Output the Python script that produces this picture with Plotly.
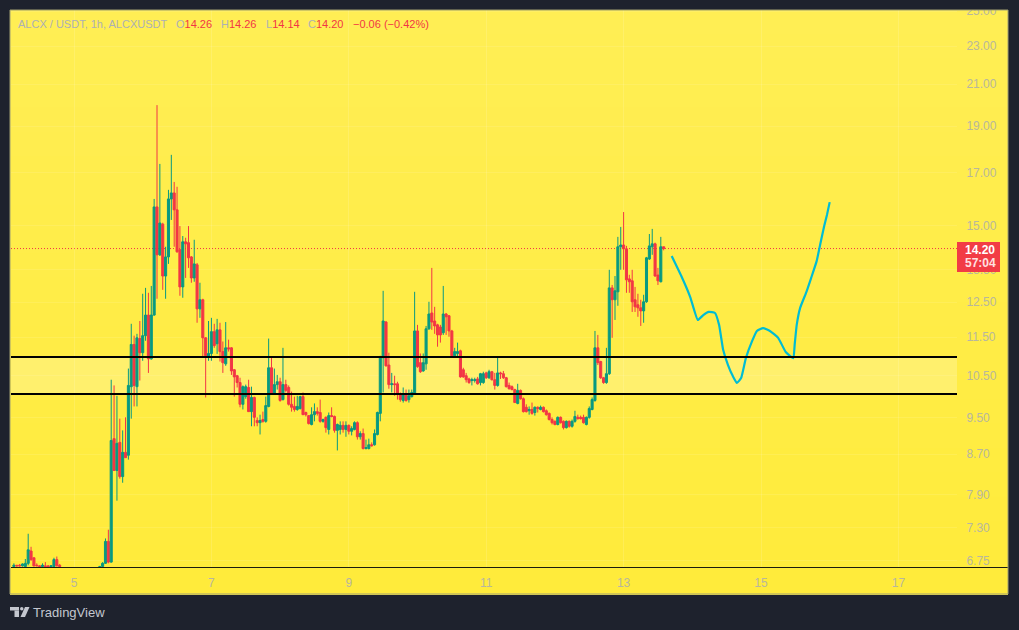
import math
import plotly.graph_objects as go

# hourly candles, one line = 10 candles
opens = [
    6.66,6.68,6.68,6.67,6.66,6.71,6.91,6.80,6.68,6.67,
    6.66,6.67,6.67,6.66,6.66,6.77,6.68,6.64,6.61,6.60,
    6.58,6.57,6.58,6.56,6.55,6.56,6.58,6.60,6.61,6.62,
    6.62,6.66,6.71,7.07,6.73,9.03,8.37,8.95,8.25,8.74,
    8.68,10.22,11.30,10.22,11.46,11.08,11.54,12.12,10.92,12.12,
    15.68,13.99,15.05,13.30,13.92,15.98,16.21,15.57,14.16,12.96,
    14.43,14.40,13.92,13.24,13.66,12.30,12.57,11.48,10.98,11.06,
    11.65,11.32,11.70,11.11,10.79,11.21,11.21,10.64,10.49,10.32,
    9.80,9.98,10.20,9.63,9.96,9.43,9.38,9.45,9.41,9.75,
    10.69,10.05,10.27,10.34,9.91,10.27,10.20,9.80,9.75,9.68,
    9.70,9.98,9.61,9.54,9.34,9.56,9.63,9.61,9.41,9.50,
    9.23,9.54,9.52,9.21,9.23,9.32,9.23,9.32,9.19,9.23,
    9.38,9.07,9.14,8.82,8.82,8.90,8.90,9.12,9.59,10.95,
    11.92,10.76,10.27,10.29,10.29,10.05,9.89,10.05,9.91,9.98,
    10.05,11.67,10.82,10.61,10.79,11.73,12.18,11.95,11.84,11.78,
    11.62,12.15,12.10,11.67,11.00,11.06,11.13,10.64,10.49,10.41,
    10.37,10.37,10.41,10.32,10.32,10.56,10.44,10.59,10.39,10.25,
    10.56,10.54,10.44,10.25,10.22,10.15,9.82,10.13,9.93,9.73,
    9.65,9.68,9.61,9.73,9.68,9.73,9.65,9.59,9.45,9.41,
    9.34,9.50,9.41,9.27,9.41,9.30,9.41,9.50,9.50,9.50,
    9.34,9.50,9.68,9.89,11.21,10.85,10.44,10.32,10.54,12.93,
    12.57,12.81,14.26,14.32,14.19,13.21,13.15,12.57,12.42,12.33,
    12.24,12.51,13.85,14.26,14.36,13.33,13.12,14.26,
]
highs = [
    6.71,6.68,6.70,6.71,6.78,7.20,6.98,6.80,6.71,6.68,
    6.71,6.73,6.68,6.68,6.80,6.82,6.70,6.64,6.63,6.62,
    6.60,6.60,6.61,6.59,6.58,6.60,6.62,6.63,6.64,6.64,
    6.67,6.73,7.12,7.27,10.39,10.25,10.00,9.47,9.21,9.50,
    10.67,11.87,11.54,11.59,11.95,12.75,12.93,12.78,12.99,15.98,
    19.98,17.37,15.10,14.26,16.33,17.75,16.64,16.45,14.98,14.63,
    14.57,14.98,13.95,14.50,13.72,13.09,12.60,11.50,11.95,12.04,
    11.87,12.01,11.90,11.38,11.92,11.43,11.23,10.66,10.51,10.44,
    10.25,10.27,10.39,10.22,9.98,9.50,9.56,9.63,9.98,11.46,
    10.98,10.67,10.51,10.44,11.21,10.39,10.25,10.10,9.98,10.00,
    10.00,10.08,9.63,9.54,9.73,9.82,9.73,9.91,9.47,9.52,
    9.61,9.73,9.54,9.36,9.41,9.41,9.41,9.34,9.30,9.41,
    9.41,9.19,9.25,9.01,9.03,8.95,9.23,9.63,11.00,12.84,
    11.95,11.08,10.56,10.49,10.34,10.08,10.20,10.15,10.15,10.15,
    12.81,11.84,11.06,11.06,11.81,12.51,13.56,12.36,11.87,11.84,
    12.99,12.18,12.12,11.70,11.21,11.35,11.16,10.69,10.56,10.44,
    10.44,10.44,10.46,10.56,10.59,10.59,10.64,10.61,10.56,10.95,
    10.59,10.61,10.46,10.32,10.25,10.17,10.29,10.15,9.96,9.80,
    9.75,9.84,9.75,9.75,9.77,9.75,9.68,9.61,9.50,9.43,
    9.52,9.52,9.43,9.43,9.43,9.45,9.65,9.56,9.54,9.56,
    9.52,9.75,9.96,11.67,11.56,10.87,10.46,11.21,13.50,13.02,
    13.30,14.60,14.95,15.49,14.29,13.34,13.50,12.96,12.75,12.57,
    12.72,13.92,14.70,14.88,14.40,13.56,14.60,14.26,
]
lows = [
    6.64,6.66,6.66,6.66,6.64,6.68,6.75,6.66,6.67,6.65,
    6.65,6.65,6.65,6.65,6.64,6.66,6.64,6.60,6.58,6.56,
    6.55,6.54,6.55,6.53,6.52,6.54,6.56,6.58,6.59,6.60,
    6.60,6.64,6.70,6.71,6.72,8.37,7.79,8.21,8.13,8.63,
    8.59,9.47,9.75,9.75,10.37,10.87,11.40,10.56,10.90,12.10,
    12.60,13.95,12.87,12.60,13.69,15.20,14.26,14.06,12.69,12.63,
    13.24,13.56,13.09,13.12,11.90,12.04,10.98,9.96,10.87,10.87,
    11.21,11.05,10.85,10.56,10.74,11.11,10.51,9.98,10.20,9.73,
    9.68,9.93,9.63,9.30,9.30,9.30,9.12,9.38,9.38,9.73,
    10.03,10.03,10.15,9.86,9.89,10.08,9.77,9.63,9.63,9.65,
    9.68,9.56,9.52,9.34,9.32,9.41,9.54,9.38,9.38,9.16,
    9.12,9.50,9.16,8.78,9.12,9.16,9.07,9.12,9.10,9.21,
    9.01,9.01,8.80,8.80,8.80,8.86,8.88,9.10,9.41,10.08,
    10.72,10.17,10.08,10.00,9.91,9.86,9.84,9.86,9.84,9.96,
    10.03,10.69,10.56,10.59,10.64,11.70,11.70,11.59,11.24,11.35,
    11.56,11.56,11.51,10.98,10.98,10.98,10.44,10.44,10.32,10.29,
    10.25,10.32,10.27,10.25,10.29,10.41,10.41,10.37,10.15,10.22,
    10.41,10.41,10.20,10.15,10.13,9.84,9.80,9.91,9.61,9.61,
    9.56,9.56,9.54,9.61,9.66,9.61,9.54,9.43,9.34,9.32,
    9.32,9.36,9.23,9.25,9.27,9.27,9.38,9.45,9.45,9.36,
    9.32,9.47,9.66,9.86,10.76,10.41,10.29,10.29,10.51,11.48,
    11.98,12.39,13.50,13.50,12.78,12.78,12.21,12.21,12.07,11.81,
    11.90,12.48,13.82,13.99,13.28,13.02,13.10,14.14,
]
closes = [
    6.68,6.67,6.67,6.70,6.71,6.93,6.77,6.67,6.67,6.66,
    6.68,6.66,6.66,6.67,6.77,6.67,6.66,6.61,6.60,6.58,
    6.57,6.58,6.56,6.55,6.56,6.58,6.60,6.61,6.62,6.63,
    6.66,6.71,7.07,6.73,8.99,8.37,8.93,8.25,8.74,8.63,
    10.25,11.30,10.25,11.48,11.08,11.54,12.12,10.92,12.12,15.68,
    13.99,15.09,13.30,13.92,15.98,16.21,15.57,14.09,12.96,14.43,
    14.36,13.89,13.24,13.69,12.30,12.57,11.48,11.00,11.06,11.65,
    11.27,11.70,11.11,10.82,11.21,11.18,10.61,10.46,10.32,9.80,
    10.22,10.22,9.63,9.96,9.50,9.38,9.43,9.41,9.77,10.69,
    10.05,10.27,10.34,9.89,10.27,10.13,9.80,9.73,9.68,9.75,
    9.98,9.56,9.56,9.36,9.56,9.63,9.59,9.41,9.45,9.27,
    9.54,9.52,9.21,9.34,9.32,9.23,9.32,9.19,9.25,9.38,
    9.07,9.14,8.82,8.84,8.90,8.88,9.14,9.61,10.98,11.95,
    10.74,10.27,10.29,10.27,10.03,9.91,10.05,9.89,10.00,10.08,
    11.67,10.72,10.59,10.82,11.73,12.15,11.92,11.81,11.56,11.56,
    12.15,12.07,11.67,11.00,11.11,11.11,10.46,10.46,10.39,10.32,
    10.39,10.39,10.29,10.54,10.54,10.44,10.59,10.39,10.25,10.56,
    10.54,10.44,10.22,10.17,10.15,9.84,10.13,9.93,9.63,9.63,
    9.68,9.59,9.73,9.70,9.73,9.63,9.56,9.45,9.38,9.34,
    9.50,9.38,9.27,9.41,9.30,9.41,9.52,9.47,9.47,9.38,
    9.50,9.70,9.91,11.21,10.82,10.44,10.32,10.54,12.93,12.57,
    12.84,14.26,14.32,14.19,13.18,13.12,12.51,12.36,12.33,12.24,
    12.51,13.89,14.29,14.36,13.30,13.15,14.26,14.20,
]
assert len(opens) == len(highs) == len(lows) == len(closes)

# day of month for each hourly candle, first one is the 4th at 03:00
days = [5 + h / 24 for h in range(-21, len(opens) - 21)]

# hand drawn projection line
curve_days = [13.70, 13.84, 13.97, 14.08, 14.16, 14.24, 14.33, 14.39, 14.45, 14.52, 14.59,
              14.65, 14.71, 14.78, 14.87, 14.94, 15.03, 15.13, 15.25, 15.36, 15.47, 15.49,
              15.52, 15.57, 15.66, 15.73, 15.81, 15.86, 15.92, 15.96, 16.00]
curve_prices = [13.95, 13.30, 12.65, 11.98, 12.12, 12.21, 12.18, 11.84, 11.15, 10.76, 10.48,
                10.31, 10.43, 10.94, 11.39, 11.67, 11.75, 11.67, 11.48, 11.10, 10.94, 11.29,
                11.84, 12.33, 12.80, 13.24, 13.78, 14.32, 14.98, 15.38, 15.86]

zone_top = 10.97
zone_bottom = 10.04
last_price = 14.20

price_ticks = [25, 23, 21, 19, 17, 15, 13.5, 12.5, 11.5, 10.5, 9.5, 8.7, 7.9, 7.3, 6.75]
price_labels = ["25.00", "23.00", "21.00", "19.00", "17.00", "15.00", "13.50", "12.50",
                "11.50", "10.50", "9.50", "8.70", "7.90", "7.30", "6.75"]
day_ticks = [5, 7, 9, 11, 13, 15, 17]
day_labels = ["5", "7", "9", "11", "13", "15", "17"]

GREEN = "#089981"
RED = "#f23645"
GREY = "#b8b79e"
DARK = "#1e222d"
FONT = "Liberation Sans"

# plot box in page pixels
L, R, T, B = 11, 957, 10, 567


def px(x):
    return (x - L) / (R - L)


def py(y):
    return (B - y) / (B - T)


def box(x0, y0, x1, y1, **kw):
    return dict(type="rect", xref="paper", yref="paper", x0=px(x0), x1=px(x1),
                y0=py(y0), y1=py(y1), **kw)


fig = go.Figure()
fig.add_trace(go.Candlestick(x=days, open=opens, high=highs, low=lows, close=closes,
                             increasing=dict(line=dict(color=GREEN, width=1), fillcolor=GREEN),
                             decreasing=dict(line=dict(color=RED, width=1), fillcolor=RED),
                             whiskerwidth=0, showlegend=False))
fig.add_trace(go.Scatter(x=curve_days, y=curve_prices, mode="lines",
                         line=dict(color="#00bcd4", width=2.2, shape="spline", smoothing=0.4),
                         showlegend=False))

shapes = []
# background fades a little from top to bottom
strips = 24
for i in range(strips):
    g = round(238 - 3 * i / (strips - 1))
    b = round(84 - 25 * i / (strips - 1))
    y0 = 10 + (594 - 10) * i / strips
    y1 = 10 + (594 - 10) * (i + 1) / strips + 1
    shapes.append(box(10, y0, 1008, y1, fillcolor=f"rgb(255,{g},{b})", line_width=0, layer="below"))

shapes.append(dict(type="rect", xref="paper", yref="y", x0=0, x1=1, y0=zone_bottom, y1=zone_top,
                   fillcolor="rgba(255,255,255,0.22)", line_width=0, layer="below"))
shapes.append(dict(type="line", xref="paper", yref="y", x0=0, x1=1, y0=last_price, y1=last_price,
                   line=dict(color=RED, width=1, dash="1px,2px"), layer="below"))
for level in [zone_top, zone_bottom]:
    shapes.append(dict(type="line", xref="paper", yref="y", x0=0, x1=1, y0=level, y1=level,
                       line=dict(color="#000000", width=2), layer="above"))

# pane separator, page frame, price tag
shapes.append(dict(type="line", xref="paper", yref="paper", x0=0, x1=px(1008), y0=py(567.5), y1=py(567.5),
                   line=dict(color="#1c1c10", width=1), layer="above"))
shapes.append(box(0, 0, 1019, 10, fillcolor=DARK, line_width=0, layer="above"))
shapes.append(box(10, 10, 1008, 594, line=dict(color="#a09f72", width=1), layer="above"))
shapes.append(box(957, 242, 1000, 272, fillcolor=RED, line_width=0, layer="above", opacity=0.97))

# TradingView mark
logo = "#c4c7cf"
shapes.append(box(10, 607, 19, 610.5, fillcolor=logo, line_width=0))
shapes.append(box(14.5, 610.5, 19, 617, fillcolor=logo, line_width=0))
shapes.append(dict(type="circle", xref="paper", yref="paper", x0=px(20), x1=px(23.5), y0=py(607),
                   y1=py(610.5), fillcolor=logo, line_width=0))
shapes.append(dict(type="path", xref="paper", yref="paper", fillcolor=logo, line_width=0,
                   path=f"M {px(25)} {py(607)} L {px(29.5)} {py(607)} L {px(25)} {py(617)} "
                        f"L {px(20.5)} {py(617)} Z"))


def label(x, y, text, color, size=11, anchor="left", bold=False):
    if bold:
        text = f"<b>{text}</b>"
    return dict(xref="paper", yref="paper", x=px(x), y=py(y), text=text, showarrow=False,
                xanchor=anchor, yanchor="middle", align=anchor, xshift=-2,
                font=dict(family=FONT, size=size, color=color))


header_grey = "#adb0b4"
annotations = [
    label(18, 24, "ALCX / USDT, 1h, ALCXUSDT", header_grey),
    label(176, 24, f'O<span style="color:{RED}">14.26</span>', header_grey),
    label(221, 24, f'H<span style="color:{RED}">14.26</span>', header_grey),
    label(266, 24, f'L<span style="color:{RED}">14.14</span>', header_grey),
    label(308, 24, f'C<span style="color:{RED}">14.20</span>', header_grey),
    label(353, 24, "\u22120.06 (\u22120.42%)", RED),
    label(965, 250, "14.20", "#ffffff", size=12, bold=True),
    label(965, 263, "57:04", "#ffe0e0", size=12, bold=True),
    label(33, 612, "TradingView", "#c4c7cf", size=13),
]

fig.update_layout(
    width=1019, height=630,
    margin=dict(l=L, r=1019 - R, t=T, b=630 - B, pad=0),
    paper_bgcolor=DARK,
    plot_bgcolor="rgba(0,0,0,0)",
    showlegend=False,
    boxgap=0.28,
    boxgroupgap=0,
    shapes=shapes,
    annotations=annotations,
    font=dict(family=FONT, size=12, color=GREY),
    xaxis=dict(range=[4.083, 17.853], rangeslider=dict(visible=False), tickmode="array",
               tickvals=day_ticks, ticktext=day_labels, showline=False, zeroline=False,
               gridcolor="rgba(255,255,255,0.13)", gridwidth=1, ticks="outside", ticklen=5,
               tickcolor="rgba(0,0,0,0)", tickfont=dict(family=FONT, size=12, color=GREY),
               automargin=False),
    yaxis=dict(type="log", side="right", range=[math.log10(6.652), math.log10(25.06)],
               tickmode="array", tickvals=price_ticks, ticktext=price_labels, zeroline=False,
               showline=False, gridcolor="rgba(255,255,255,0.10)", gridwidth=1, ticks="outside",
               ticklen=6, tickcolor="rgba(0,0,0,0)",
               tickfont=dict(family=FONT, size=12, color=GREY), automargin=False),
)

fig.write_html("out.html", config=dict(displayModeBar=False),
               post_script="document.body.style.margin='0';document.body.style.overflow='hidden';")
